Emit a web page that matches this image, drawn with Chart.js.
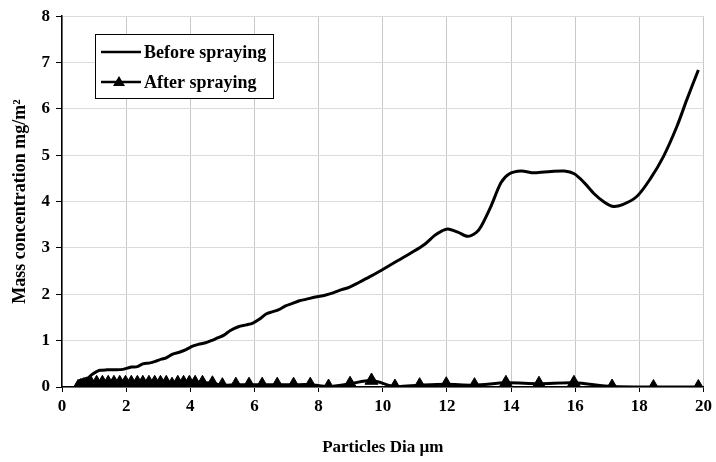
<!DOCTYPE html>
<html>
<head>
<meta charset="utf-8">
<script src="https://cdn.jsdelivr.net/npm/chart.js@4"></script>
<style>
  html, body { margin: 0; padding: 0; background: #fff; }
  #wrap { width: 716px; height: 462px; }
</style>
</head>
<body>
<div id="wrap"><canvas id="chart" width="716" height="462"></canvas></div>
<script>
// particle diameter (um) and mass concentration
const beforeX = [0.5, 0.6, 0.71, 0.8, 0.92, 1.05, 1.18, 1.4, 1.65, 1.9, 2.16, 2.35, 2.52, 2.75, 2.94, 3.1, 3.25, 3.45, 3.66, 3.85,
  4.07, 4.25, 4.45, 4.65, 4.85, 5.05, 5.25, 5.5, 5.75, 5.95, 6.15, 6.35, 6.55, 6.76, 6.97, 7.17, 7.4, 7.6, 7.9, 8.2,
  8.45, 8.72, 8.95, 9.24, 9.6, 9.96, 10.38, 10.9, 11.31, 11.62, 11.85, 12.03, 12.34, 12.65, 12.91, 13.07, 13.38, 13.69, 13.95, 14.31,
  14.72, 15.24, 15.66, 15.97, 16.28, 16.59, 16.9, 17.15, 17.46, 17.92, 18.34, 18.75, 19.17, 19.48, 19.84];
const beforeY = [0, 0.02, 0.11, 0.18, 0.26, 0.32, 0.36, 0.37, 0.37, 0.38, 0.43, 0.44, 0.5, 0.52, 0.56, 0.6, 0.63, 0.71, 0.75, 0.8,
  0.88, 0.92, 0.95, 1.0, 1.06, 1.12, 1.22, 1.3, 1.34, 1.38, 1.46, 1.57, 1.62, 1.67, 1.75, 1.8, 1.86, 1.89, 1.94, 1.98,
  2.03, 2.1, 2.15, 2.25, 2.38, 2.52, 2.69, 2.9, 3.08, 3.27, 3.37, 3.41, 3.34, 3.25, 3.33, 3.47, 3.91, 4.41, 4.6, 4.66,
  4.62, 4.65, 4.66, 4.6, 4.41, 4.17, 3.99, 3.9, 3.93, 4.11, 4.49, 4.97, 5.62, 6.2, 6.84];

const afterX = [0.5, 0.54, 0.58, 0.63, 0.67, 0.72, 0.78, 0.84, 0.9, 1.08, 1.26, 1.44, 1.62, 1.8, 1.98, 2.16, 2.35, 2.52, 2.71, 2.89,
  3.07, 3.25, 3.43, 3.61, 3.79, 3.97, 4.15, 4.38, 4.69, 5.0, 5.42, 5.83, 6.24, 6.71, 7.22, 7.74, 8.31, 8.98, 9.65, 10.38,
  11.15, 11.98, 12.86, 13.84, 14.87, 15.96, 17.15, 18.44, 19.84];
const afterY = [0, 0.01, 0.02, 0.03, 0.04, 0.05, 0.06, 0.07, 0.08, 0.09, 0.09, 0.09, 0.09, 0.09, 0.09, 0.09, 0.09, 0.09, 0.09, 0.09,
  0.09, 0.09, 0.05, 0.09, 0.09, 0.09, 0.09, 0.09, 0.08, 0.04, 0.05, 0.05, 0.05, 0.05, 0.05, 0.05, 0.01, 0.07, 0.14, 0.01,
  0.04, 0.06, 0.04, 0.09, 0.07, 0.09, 0.01, 0.0, 0.0];

const seriesNames = ['Before spraying', 'After spraying'];
const xTitle = 'Particles Dia µm';
const yTitle = 'Mass concentration mg/m²';

const FONT = '"Liberation Serif", "Times New Roman", serif';

const toPoints = (xs, ys) => xs.map((x, i) => ({ x: x, y: ys[i] }));

// legend box drawn inside the plot, like the original
const boxLegend = {
  id: 'boxLegend',
  afterDraw(chart) {
    const ctx = chart.ctx;
    const left = 95, top = 34, w = 178, h = 64;
    ctx.save();
    ctx.fillStyle = '#fff';
    ctx.fillRect(left, top, w, h);
    ctx.strokeStyle = '#000';
    ctx.lineWidth = 1;
    ctx.strokeRect(left + 0.5, top + 0.5, w, h);
    ctx.font = 'bold 18px ' + FONT;
    ctx.textBaseline = 'middle';
    ctx.fillStyle = '#000';
    const rows = [52, 82];
    rows.forEach((yy, i) => {
      ctx.beginPath();
      ctx.lineWidth = 2.5;
      ctx.moveTo(101, yy);
      ctx.lineTo(141, yy);
      ctx.stroke();
      if (i === 1) {
        ctx.beginPath();
        ctx.moveTo(119, yy - 6);
        ctx.lineTo(125, yy + 4);
        ctx.lineTo(113, yy + 4);
        ctx.closePath();
        ctx.fill();
      }
      ctx.fillText(chart.data.datasets[i].label, 144, yy + 1);
    });
    ctx.restore();
  }
};

new Chart(document.getElementById('chart'), {
  type: 'scatter',
  data: {
    datasets: [
      {
        label: seriesNames[0],
        data: toPoints(beforeX, beforeY),
        showLine: true,
        borderColor: '#000',
        borderWidth: 3,
        pointRadius: 0,
        tension: 0.3
      },
      {
        label: seriesNames[1],
        data: toPoints(afterX, afterY),
        showLine: true,
        borderColor: '#000',
        backgroundColor: '#000',
        borderWidth: 3,
        pointStyle: 'triangle',
        pointRadius: 7.5,
        pointBorderWidth: 1,
        tension: 0.3
      }
    ]
  },
  options: {
    responsive: false,
    animation: false,
    layout: { padding: { top: 15, right: 9, left: 6, bottom: 0 } },
    plugins: {
      legend: { display: false },
      tooltip: { enabled: false }
    },
    scales: {
      x: {
        type: 'linear',
        min: 0,
        max: 20,
        afterFit: (s) => { s.height = 75; },
        ticks: { stepSize: 2, color: '#000', font: { family: FONT, size: 17, weight: 'bold' }, padding: 4 },
        grid: { color: '#c8c8c8', tickColor: '#000', tickLength: 5, lineWidth: 1 },
        border: { color: '#000', width: 1.5 },
        title: { display: true, text: xTitle, color: '#000', font: { family: FONT, size: 17, weight: 'bold' }, padding: { top: 19 } }
      },
      y: {
        min: 0,
        max: 8,
        afterFit: (s) => { s.width = 56; },
        ticks: { stepSize: 1, color: '#000', font: { family: FONT, size: 17, weight: 'bold' }, padding: 6 },
        grid: { color: '#dcdcdc', tickColor: '#000', tickLength: 6, lineWidth: 1 },
        border: { color: '#000', width: 1.5 },
        title: { display: true, text: yTitle, color: '#000', font: { family: FONT, size: 18, weight: 'bold' }, padding: { bottom: 2 } }
      }
    }
  },
  plugins: [boxLegend]
});
</script>
</body>
</html>
